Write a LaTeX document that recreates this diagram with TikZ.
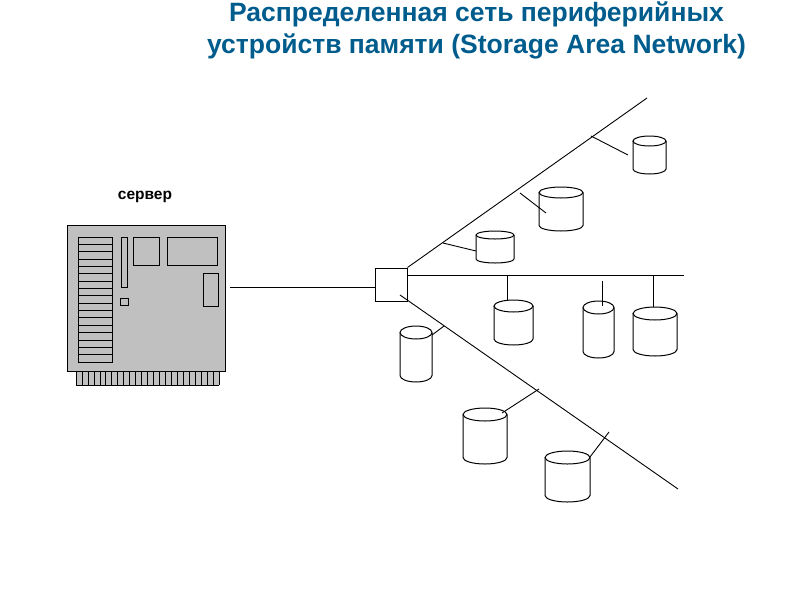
\documentclass[tikz,border=0pt]{standalone}
\usepackage{fontspec}
\setmainfont{Liberation Sans}
\usetikzlibrary{calc, positioning}
\definecolor{TitleBlue}{RGB}{0, 92, 140}
\definecolor{BoardGray}{RGB}{192, 192, 192}
\tikzset{
    diskline/.style={draw=black, line width=1pt},
    partbox/.style={draw=black, line width=1pt},
    linkline/.style={draw=black, line width=0.9pt}
}
\begin{document}
\begin{tikzpicture}[x=1pt, y=-1pt]
    \useasboundingbox (0,0) rectangle (800,600);
    % Title
    \node[font=\bfseries\fontsize{26.5}{32}\selectfont, text=TitleBlue, align=center] (title) at (476.5,30)
        {Распределенная сеть периферийных\\устройств памяти (Storage Area Network)};
    \node[font=\bfseries\fontsize{15.5}{18}\selectfont] (srvlabel) at (145,197) {сервер};
    % Server board
    \fill[BoardGray] (76,371) rectangle (219,385);
    \foreach \i in {0,...,24} {
        \draw[black, line width=0.6pt] ({76+\i*143/24},371) -- ({76+\i*143/24},385);
    }
    \draw[black, line width=0.6pt] (76,385) -- (219,385);
    \node[partbox, fill=BoardGray, minimum width=158pt, minimum height=146pt, inner sep=0pt] (server) at (146.5,298) {};
    % Memory rows
    \draw[partbox] (78,237) rectangle (112,362);
    \foreach \i in {1,...,16} {
        \draw[black, line width=0.8pt] (78,{237+\i*125/17}) -- (112,{237+\i*125/17});
    }
    % Board parts
    \draw[partbox] (121,237) rectangle (127,287);
    \draw[partbox] (120,298) rectangle (128,305);
    \draw[partbox] (133,237) rectangle (159,265);
    \draw[partbox] (167,237) rectangle (217,265);
    \draw[partbox] (203,273) rectangle (218,306);
    % Hub
    \node[partbox, minimum width=32pt, minimum height=33pt, inner sep=0pt] (hub) at (391,284.5) {};
    \coordinate (srvend) at (230,287);
    \draw[linkline] (srvend) -- (srvend -| hub.west);
    % Bus lines
    \coordinate (busup) at (647,98);
    \coordinate (busmid) at (684,275);
    \coordinate (buslowstart) at (400,295);
    \coordinate (buslow) at (678,489);
    \draw[linkline] (hub.north east) -- (busup);
    \draw[linkline] (hub.east |- busmid) -- (busmid);
    \draw[linkline] (buslowstart) -- (buslow);
    % Disks
    \foreach \n/\x/\y/\w/\h/\r in {d1/649.5/155/33/38/5, d2/561/209/44/44/5.5, d3/495/247/38/32/4,
                                   d4/513.5/322.5/39/45/6, d5/598.5/329.5/31/57/6.5, d6/655/331.5/44/49/6.5,
                                   d7/416/354/32/56/6.5, d8/485/436/44/56/6.5, d9/567.5/476.5/45/51/6.5} {
        \node[minimum width=\w pt, minimum height=\h pt, inner sep=0pt, outer sep=0pt] (\n) at (\x,\y) {};
        \draw[diskline, fill=white] ($(\n.north west)+(0,\r)$) -- ($(\n.south west)+(0,-\r)$)
            arc[start angle=180, end angle=0, x radius=\w/2, y radius=\r]
            -- ($(\n.north east)+(0,\r)$);
        \draw[diskline, fill=white] ($(\n.north)+(0,\r)$) ellipse [x radius=\w/2, y radius=\r];
    }
    % Stubs
    \foreach \n/\ax/\ay/\bx/\by in {d1/591/136/628/155, d2/520/193/546/213, d3/443/243/476/251,
                                    d4/507/275/507/300, d5/602/281/602/306, d6/653/275/653/307,
                                    d7/444/326/432/335, d8/539/389/502/413, d9/609/432/590/457} {
        \coordinate (\n busend) at (\ax,\ay);
        \coordinate (\n diskend) at (\bx,\by);
        \draw[linkline] (\n busend) -- (\n diskend);
    }
\end{tikzpicture}
\end{document}
